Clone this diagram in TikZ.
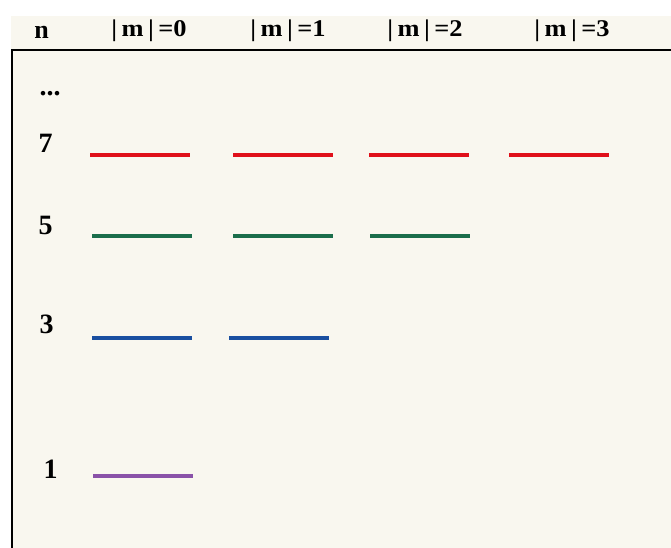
\documentclass[tikz,border=0pt]{standalone}
\usepackage{fontspec}
\setmainfont{Liberation Serif}
\definecolor{cream}{HTML}{F9F7EF}
\definecolor{lvred}{HTML}{E0101A}
\definecolor{lvgreen}{HTML}{1B6E4B}
\definecolor{lvblue}{HTML}{1A4FA0}
\definecolor{lvpurple}{HTML}{8A52A8}
\tikzset{
  hdr/.style={anchor=base, inner sep=0pt, font=\fontsize{24}{24}\selectfont\bfseries},
  nlab/.style={anchor=base, inner sep=0pt, font=\fontsize{28}{28}\selectfont\bfseries},
  level/.style={line width=4pt},
}
\newcommand{\mlab}[1]{\scalebox{1.1}[1]{|\,m\,|\,=#1}}
\begin{document}
\begin{tikzpicture}[x=1pt,y=-1pt]
\useasboundingbox (0,0) rectangle (671,548);
\fill[white] (0,0) rectangle (671,548);
\fill[cream] (11,16) rectangle (671,548);
\draw[line width=2.5pt] (11,50) -- (671,50);
\draw[line width=1.5pt] (12,50) -- (12,548);
% header
\node[hdr, font=\fontsize{26}{26}\selectfont\bfseries] (hn) at (41.5,39) {n};
\node[hdr] (h0) at (149,37) {\mlab{0}};
\node[hdr] (h1) at (288,37) {\mlab{1}};
\node[hdr] (h2) at (425,37) {\mlab{2}};
\node[hdr] (h3) at (572,37) {\mlab{3}};
% n labels
\node[nlab] (ndots) at (50,96) {...};
\node[nlab] (n7) at (45.5,153) {7};
\node[nlab] (n5) at (45.5,234) {5};
\node[nlab] (n3) at (46.5,333) {3};
\node[nlab] (n1) at (50.5,478) {1};
% levels
\draw[level, lvred] (90,155.3) -- (190,155.3);
\draw[level, lvred] (233,155.3) -- (333,155.3);
\draw[level, lvred] (369,155.3) -- (469,155.3);
\draw[level, lvred] (509,155.3) -- (609,155.3);
\draw[level, lvgreen] (92,235.5) -- (192,235.5);
\draw[level, lvgreen] (233,235.5) -- (333,235.5);
\draw[level, lvgreen] (370,235.5) -- (470,235.5);
\draw[level, lvblue] (92,337.5) -- (192,337.5);
\draw[level, lvblue] (229,337.5) -- (329,337.5);
\draw[level, lvpurple] (93,476.3) -- (193,476.3);
\end{tikzpicture}
\end{document}
